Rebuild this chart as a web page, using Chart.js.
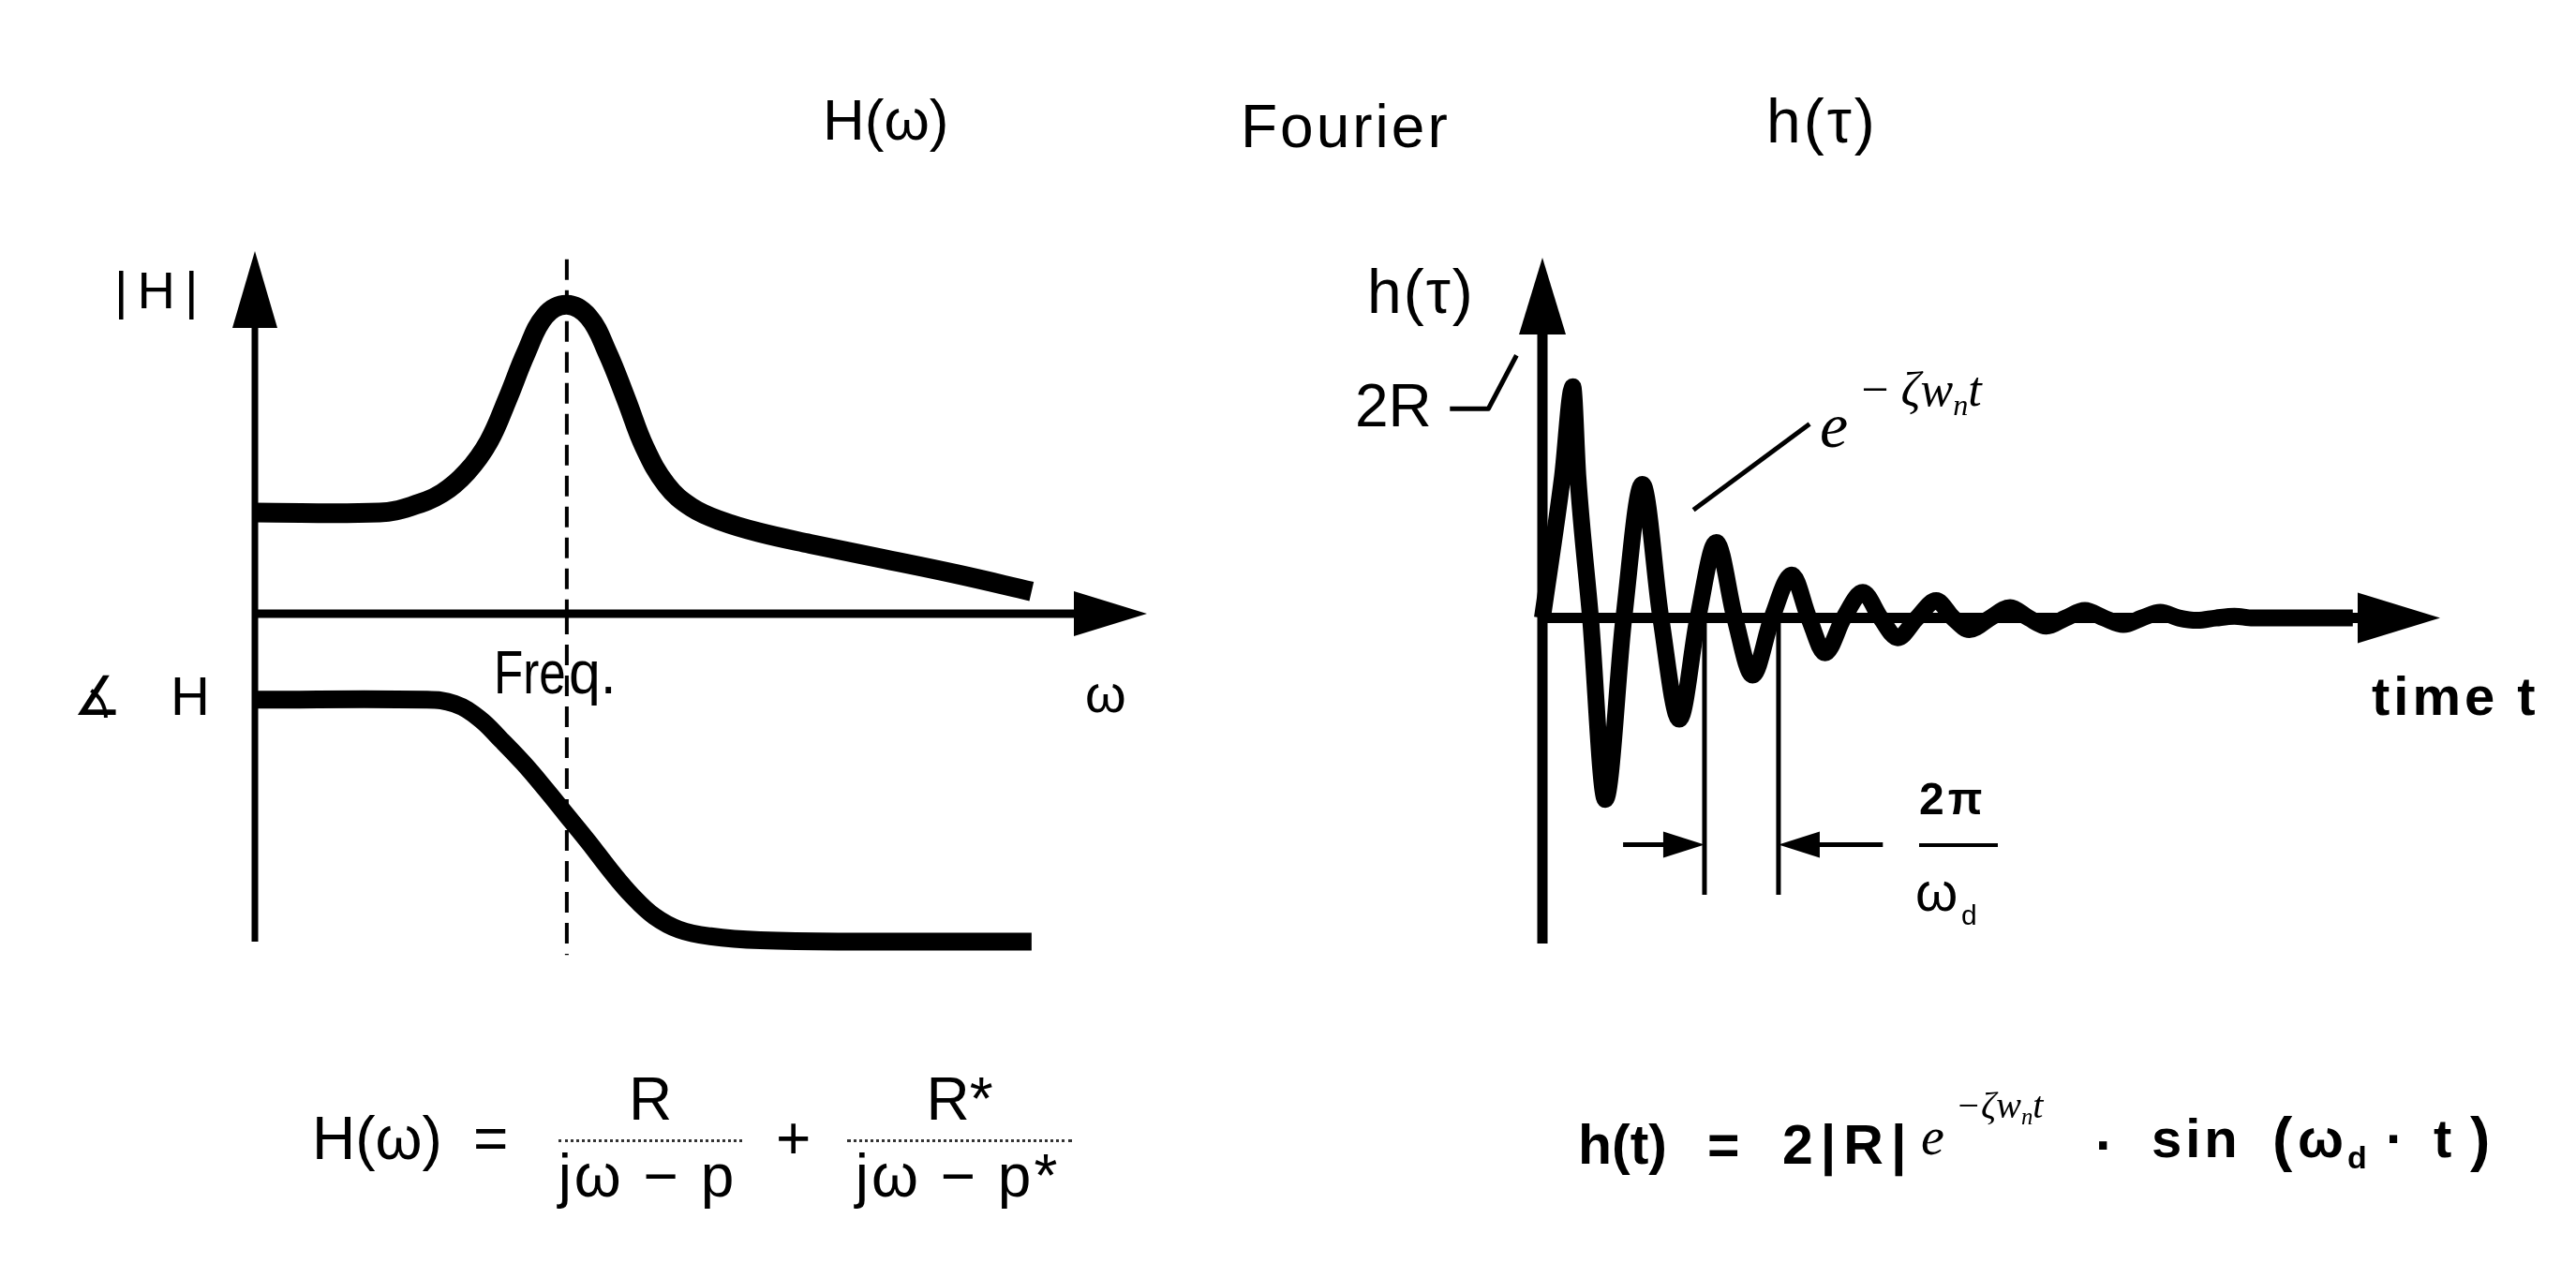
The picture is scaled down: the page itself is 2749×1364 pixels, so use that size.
<!DOCTYPE html>
<html>
<head>
<meta charset="utf-8">
<script src="https://cdn.jsdelivr.net/npm/chart.js@4.4.1/dist/chart.umd.min.js"></script>
<style>
  html, body { margin: 0; padding: 0; background: #fff; }
  body { width: 2749px; height: 1364px; position: relative; overflow: hidden; }
  canvas { position: absolute; left: 0; top: 0; }
  .t { position: absolute; line-height: 1; white-space: nowrap; color: #000; font-family: 'Liberation Sans', Arial, sans-serif; }
  .b { font-weight: bold; }
  .m { font-family: 'Liberation Serif', 'DejaVu Serif', serif; font-style: italic; }
  .m sub { font-size: 0.62em; vertical-align: -0.3em; }
  .bar { position: absolute; height: 0; border-top: 3px dotted #333; }
  .nx { transform-origin: left top; }
</style>
</head>
<body>
<canvas id="magChart" width="2749" height="1364"></canvas>
<canvas id="phaseChart" width="2749" height="1364"></canvas>
<canvas id="impulseChart" width="2749" height="1364"></canvas>

<!-- titles -->
<div class="t" style="left:878px;top:97px;font-size:62px">H(ω)</div>
<div class="t" style="left:1324px;top:103px;font-size:64px;letter-spacing:3px">Fourier</div>
<div class="t" style="left:1885px;top:96px;font-size:66px;letter-spacing:3px">h(τ)</div>

<!-- left diagram labels -->
<div class="t" style="left:122px;top:282px;font-size:56px;letter-spacing:10px">|H|</div>
<div class="t" style="left:78px;top:714px;font-size:58px;font-family:'DejaVu Sans'">∡</div>
<div class="t" style="left:182px;top:714px;font-size:58px">H</div>
<div class="t nx" style="left:527px;top:686px;font-size:64px;transform:scaleX(0.8)">Fre</div>
<div class="t nx" style="left:607px;top:686px;font-size:64px;transform:scaleX(0.95)">q.</div>
<div class="t" style="left:1158px;top:713px;font-size:56px">ω</div>

<!-- right diagram labels -->
<div class="t" style="left:1459px;top:278px;font-size:66px;letter-spacing:2px">h(τ)</div>
<div class="t" style="left:1446px;top:401px;font-size:64px">2R</div>
<div class="t m" style="left:1942px;top:420px;font-size:68px">e</div>
<div class="t m" style="left:1983px;top:390px;font-size:52px">−&thinsp;ζw<sub>n</sub>t</div>
<div class="t b" style="left:2531px;top:714px;font-size:58px;letter-spacing:4px">time t</div>
<div class="t b" style="left:2048px;top:829px;font-size:48px;letter-spacing:4px">2π</div>
<div style="position:absolute;left:2048px;top:900px;width:84px;height:4px;background:#000"></div>
<div class="t" style="left:2044px;top:923px;font-size:58px">ω</div>
<div class="t" style="left:2093px;top:962px;font-size:30px">d</div>

<!-- left formula -->
<div class="t" style="left:333px;top:1183px;font-size:64px">H(ω)</div>
<div class="t" style="left:505px;top:1183px;font-size:64px">=</div>
<div class="t" style="left:596px;top:1141px;width:196px;text-align:center;font-size:64px">R</div>
<div class="bar" style="left:596px;top:1216px;width:196px"></div>
<div class="t" style="left:590px;top:1223px;width:202px;text-align:center;font-size:64px;letter-spacing:3px">jω − p</div>
<div class="t" style="left:828px;top:1183px;font-size:64px">+</div>
<div class="t" style="left:904px;top:1141px;width:240px;text-align:center;font-size:64px">R*</div>
<div class="bar" style="left:904px;top:1216px;width:240px"></div>
<div class="t" style="left:902px;top:1223px;width:240px;text-align:center;font-size:64px;letter-spacing:3px">jω − p*</div>

<!-- right formula -->
<div class="t b" style="left:1684px;top:1193px;font-size:59px">h(t)</div>
<div class="t b" style="left:1822px;top:1193px;font-size:59px">=</div>
<div class="t b" style="left:1902px;top:1193px;font-size:59px;letter-spacing:8px">2|R|</div>
<div class="t m" style="left:2050px;top:1185px;font-size:56px">e</div>
<div class="t m" style="left:2087px;top:1160px;font-size:40px">−ζw<sub>n</sub>t</div>
<div class="t b" style="left:2236px;top:1193px;font-size:59px">·</div>
<div class="t b" style="left:2296px;top:1186px;font-size:58px;letter-spacing:4px">sin</div>
<div class="t b" style="left:2425px;top:1184px;font-size:64px">(</div>
<div class="t b" style="left:2452px;top:1186px;font-size:58px">ω</div>
<div class="t b" style="left:2505px;top:1218px;font-size:34px">d</div>
<div class="t b" style="left:2546px;top:1186px;font-size:58px">·</div>
<div class="t b" style="left:2597px;top:1186px;font-size:58px">t</div>
<div class="t b" style="left:2636px;top:1184px;font-size:64px">)</div>

<script>
// Frequency response, resonance normalised to omega = 1
const magOmega = [0, 0.40, 0.50, 0.60, 0.68, 0.75, 0.81, 0.87, 0.93, 1.0, 1.07, 1.13, 1.19, 1.25, 1.32, 1.40, 1.50, 1.62, 1.78, 2.0, 2.25, 2.49];
const magValue = [1.0, 1.0, 1.06, 1.19, 1.40, 1.70, 2.12, 2.58, 2.94, 3.05, 2.93, 2.58, 2.12, 1.64, 1.27, 1.05, 0.91, 0.80, 0.69, 0.55, 0.39, 0.22];
const phaseOmega = [0, 0.55, 0.64, 0.72, 0.79, 0.86, 0.93, 1.0, 1.07, 1.14, 1.21, 1.28, 1.36, 1.46, 1.62, 1.93, 2.49];
const phaseDeg = [0, 0, -3, -14, -30, -47, -66, -86, -106, -127, -146, -161, -171, -176, -179, -180, -180];
const resonanceOmega = 1.0;

// Impulse response, time measured in damped periods 2π/ω_d
const timeT = [0, 0.27, 0.41, 0.48, 0.65, 0.85, 1.10, 1.35, 1.60, 1.85, 2.10, 2.35, 2.60, 2.84, 3.10, 3.37, 3.60, 3.82,
  4.07, 4.33, 4.57, 4.80, 5.06, 5.32, 5.55, 5.77, 6.05, 6.32, 6.57, 6.81, 7.07, 7.33, 7.59, 7.85, 8.10, 8.35,
  8.60, 8.85, 9.10, 9.35, 9.60, 10.95];
const responseH = [0, 1.21, 1.99, 1.21, 0, -1.56, 0, 1.15, 0, -0.87, 0, 0.65, 0, -0.49, 0, 0.37, 0, -0.30,
  0, 0.22, 0, -0.17, 0, 0.15, 0, -0.10, 0, 0.09, 0, -0.07, 0, 0.065, 0, -0.056, 0, 0.05,
  0, -0.02, 0, 0.015, 0, 0];
const periodMarks = [2.19, 3.19];
const periodArrow = { level: -1.95, from: 1.09, to: 4.6, markBottom: -2.38 };
const envelopeLeader = [[2.04, 0.93], [3.61, 1.67]];
const peakLeader = [[-1.25, 1.80], [-0.73, 1.80], [-0.35, 2.26]];

const toPoints = (xs, ys) => xs.map((x, i) => ({ x: x, y: ys[i] }));
const pairs = (arr) => arr.map(p => ({ x: p[0], y: p[1] }));

function arrowHead(ctx, x, y, dir, len, half) {
    ctx.beginPath();
    if (dir === 'up') { ctx.moveTo(x, y); ctx.lineTo(x - half, y + len); ctx.lineTo(x + half, y + len); }
    if (dir === 'right') { ctx.moveTo(x, y); ctx.lineTo(x - len, y - half); ctx.lineTo(x - len, y + half); }
    if (dir === 'left') { ctx.moveTo(x, y); ctx.lineTo(x + len, y - half); ctx.lineTo(x + len, y + half); }
    ctx.closePath();
    ctx.fill();
}

function line(extra) {
    return Object.assign({
        showLine: true,
        borderColor: '#000',
        pointRadius: 0,
        fill: false,
        clip: false
    }, extra);
}

function baseOptions(padding, xr, yr) {
    return {
        responsive: false,
        animation: false,
        events: [],
        layout: { padding: padding },
        plugins: { legend: { display: false }, tooltip: { enabled: false } },
        scales: {
            x: { type: 'linear', min: xr[0], max: xr[1], display: false },
            y: { type: 'linear', min: yr[0], max: yr[1], display: false }
        }
    };
}

// 1. |H| panel
const magAxes = {
    id: 'magAxes',
    beforeDatasetsDraw(chart) {
        const { ctx, scales: { x, y } } = chart;
        const x0 = x.getPixelForValue(0), y0 = y.getPixelForValue(0);
        const top = y.getPixelForValue(y.max), right = x.getPixelForValue(x.max);
        ctx.save();
        ctx.fillStyle = '#000';
        ctx.strokeStyle = '#000';
        ctx.lineWidth = 7;
        ctx.beginPath(); ctx.moveTo(x0, y0); ctx.lineTo(x0, top + 40); ctx.stroke();
        arrowHead(ctx, x0, top, 'up', 82, 24);
        ctx.lineWidth = 9;
        ctx.beginPath(); ctx.moveTo(x0, y0); ctx.lineTo(right - 40, y0); ctx.stroke();
        arrowHead(ctx, right, y0, 'right', 78, 24);
        ctx.restore();
    }
};

new Chart(document.getElementById('magChart'), {
    type: 'scatter',
    data: {
        datasets: [
            line({ data: toPoints(magOmega, magValue), borderWidth: 21, tension: 0.4 }),
            line({ data: [{ x: resonanceOmega, y: 3.5 }, { x: resonanceOmega, y: 0 }], borderWidth: 4, borderDash: [22, 11] })
        ]
    },
    options: baseOptions({ left: 272, right: 1525, top: 268, bottom: 709 }, [0, 2.86], [0, 3.58]),
    plugins: [magAxes]
});

// 2. phase panel
const phaseAxes = {
    id: 'phaseAxes',
    beforeDatasetsDraw(chart) {
        const { ctx, chartArea, scales: { x } } = chart;
        const x0 = x.getPixelForValue(0);
        ctx.save();
        ctx.strokeStyle = '#000';
        ctx.lineWidth = 7;
        ctx.beginPath(); ctx.moveTo(x0, chartArea.top); ctx.lineTo(x0, chartArea.bottom); ctx.stroke();
        ctx.restore();
    }
};

new Chart(document.getElementById('phaseChart'), {
    type: 'scatter',
    data: {
        datasets: [
            line({ data: toPoints(phaseOmega, phaseDeg), borderWidth: 19, tension: 0.4 }),
            line({ data: [{ x: resonanceOmega, y: 64 }, { x: resonanceOmega, y: -190 }], borderWidth: 4, borderDash: [22, 11] })
        ]
    },
    options: baseOptions({ left: 272, right: 1525, top: 655, bottom: 359 }, [0, 2.86], [-180, 64]),
    plugins: [phaseAxes]
});

// 3. impulse response panel
const impulseAxes = {
    id: 'impulseAxes',
    beforeDatasetsDraw(chart) {
        const { ctx, scales: { x, y } } = chart;
        const x0 = x.getPixelForValue(0), y0 = y.getPixelForValue(0);
        const top = y.getPixelForValue(y.max), bottom = y.getPixelForValue(y.min);
        const right = x.getPixelForValue(x.max);
        ctx.save();
        ctx.fillStyle = '#000';
        ctx.strokeStyle = '#000';
        ctx.lineWidth = 11;
        ctx.beginPath(); ctx.moveTo(x0, bottom); ctx.lineTo(x0, top + 40); ctx.stroke();
        arrowHead(ctx, x0, top, 'up', 82, 25);
        ctx.beginPath(); ctx.moveTo(x0, y0); ctx.lineTo(right - 40, y0); ctx.stroke();
        arrowHead(ctx, right, y0, 'right', 88, 27);

        // dimension arrows for one period
        const ya = y.getPixelForValue(periodArrow.level);
        const m0 = x.getPixelForValue(periodMarks[0]), m1 = x.getPixelForValue(periodMarks[1]);
        ctx.lineWidth = 5;
        ctx.beginPath(); ctx.moveTo(x.getPixelForValue(periodArrow.from), ya); ctx.lineTo(m0 - 20, ya); ctx.stroke();
        arrowHead(ctx, m0, ya, 'right', 44, 14);
        ctx.beginPath(); ctx.moveTo(m1 + 20, ya); ctx.lineTo(x.getPixelForValue(periodArrow.to), ya); ctx.stroke();
        arrowHead(ctx, m1, ya, 'left', 44, 14);

        // leader from the "2R" label to the first peak level (left of the axis)
        ctx.lineWidth = 5;
        ctx.lineJoin = 'round';
        ctx.beginPath();
        peakLeader.forEach((p, i) => {
            const px = x.getPixelForValue(p[0]), py = y.getPixelForValue(p[1]);
            if (i === 0) ctx.moveTo(px, py); else ctx.lineTo(px, py);
        });
        ctx.stroke();
        ctx.restore();
    }
};

new Chart(document.getElementById('impulseChart'), {
    type: 'scatter',
    data: {
        datasets: [
            line({ data: toPoints(timeT, responseH), borderWidth: 18, cubicInterpolationMode: 'monotone' }),
            line({ data: [{ x: periodMarks[0], y: 0 }, { x: periodMarks[0], y: periodArrow.markBottom }], borderWidth: 5 }),
            line({ data: [{ x: periodMarks[1], y: 0 }, { x: periodMarks[1], y: periodArrow.markBottom }], borderWidth: 5 }),
            line({ data: pairs(envelopeLeader), borderWidth: 5 })
        ]
    },
    options: baseOptions({ left: 1646, right: 145, top: 275, bottom: 357 }, [0, 12.13], [-2.8, 3.1]),
    plugins: [impulseAxes]
});
</script>
</body>
</html>
